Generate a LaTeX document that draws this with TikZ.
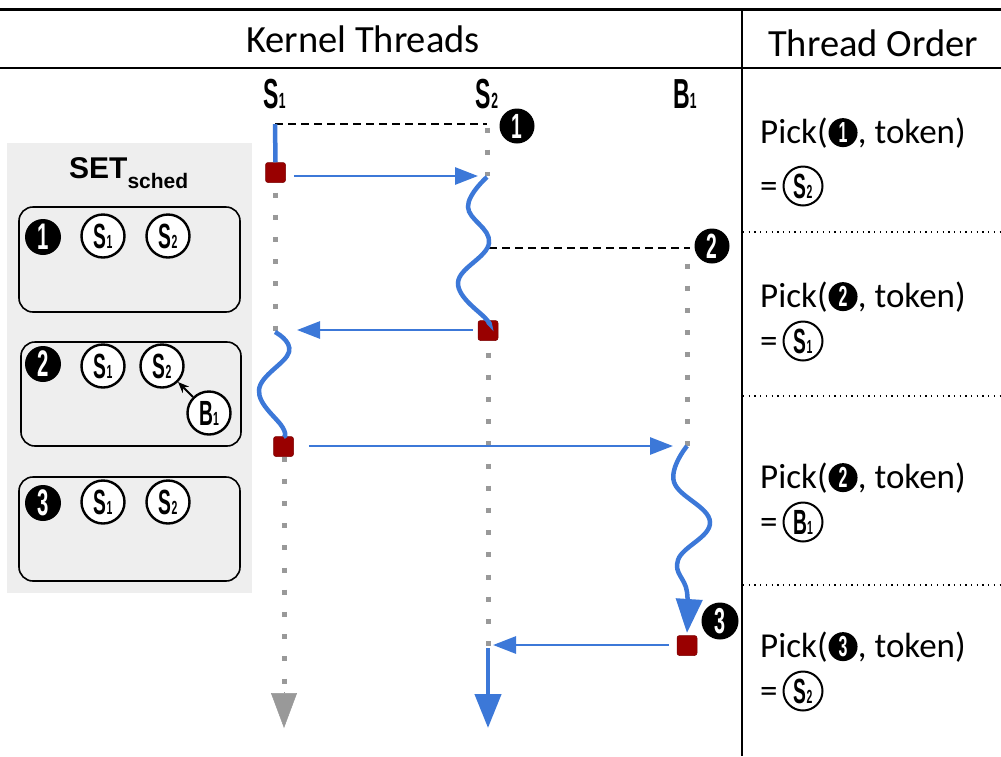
\documentclass[tikz,border=0pt]{standalone}
\usepackage{fontspec}
\usepackage{graphicx}
\setmainfont{Carlito}
\newfontfamily\condf{Liberation Sans Bold}
\newfontfamily\arialf{Liberation Sans}
\usetikzlibrary{arrows.meta}
\definecolor{tblue}{HTML}{3C78D8}
\definecolor{tred}{HTML}{990000}
\definecolor{tgray}{HTML}{999999}
\definecolor{panel}{HTML}{EEEEEE}
\newcommand{\cnd}[2]{\scalebox{0.55}[1]{\condf\fontsize{#1}{#1}\selectfont #2}}
\newcommand{\biglab}[2]{\cnd{42}{#1}\cnd{22}{#2}}
\newcommand{\clab}[2]{\cnd{35}{#1}\cnd{19}{#2}}
\tikzset{
 hdr/.style={font=\fontsize{38.5}{38.5}\selectfont, inner sep=0, anchor=base},
 picktxt/.style={font=\fontsize{35}{35}\selectfont, inner sep=0, anchor=base west},
 bnum/.style={circle, fill=black, inner sep=0, minimum size=#1, text=white},
 wcirc/.style={circle, draw=black, line width=2.4pt, fill=white, inner sep=0, minimum size=43pt},
 rcirc/.style={circle, draw=black, line width=2pt, inner sep=0, minimum size=39pt},
 setbox/.style={draw=black, line width=1.6pt, rounded corners=14pt},
 rsq/.style={rectangle, fill=tred, draw=tred!80!black, line width=0.5pt, rounded corners=2.5pt, minimum size=20pt, inner sep=0},
 tdots/.style={tgray, line width=5pt, dash pattern=on 5pt off 17.2pt},
 harrow/.style={tblue, line width=2.8pt, -{Triangle[length=23pt,width=17pt]}},
 vthick/.style={tblue, line width=4.5pt},
 varrow/.style={tblue, line width=4.5pt, -{Triangle[length=34pt,width=26pt]}},
 gyarrow/.style={tgray, line width=0.5pt, -{Triangle[length=35pt,width=26pt]}},
 blkdash/.style={black, line width=1.5pt, dash pattern=on 8pt off 5pt},
 sepdot/.style={black, line width=1.3pt, dash pattern=on 1.3pt off 4.4pt},
}
\begin{document}
\begin{tikzpicture}[x=1pt,y=-1pt]
\useasboundingbox (0,0) rectangle (1001,756);
% header frame
\coordinate (tl) at (0,9.5); \coordinate (tr) at (1001,9.5);
\coordinate (ml) at (0,68); \coordinate (mr) at (1001,68);
\coordinate (vt) at (742,9); \coordinate (vb) at (742,756);
\draw[line width=3pt] (tl) -- (tr);
\draw[line width=2.5pt] (ml) -- (mr);
\draw[line width=2.5pt] (vt) -- (vb);
\node[hdr] (kt) at (363,52) {Kernel Threads};
\node[hdr] (to) at (873,56) {Thread Order};

% right column separators
\foreach \yy/\nm in {232/sa,396/sb,585/sc}{
  \coordinate (\nm l) at (743,\yy); \coordinate (\nm r) at (1001,\yy);
  \draw[sepdot] (\nm l) -- (\nm r);
}

% left panel
\fill[panel] (7,143) rectangle (252,593);
\node[font=\arialf\bfseries\fontsize{30}{30}\selectfont, inner sep=0, anchor=base west] (setl) at (69,178) {SET\raisebox{-10pt}{\fontsize{21}{21}\selectfont sched}};
\draw[setbox] (19,207) rectangle (240,312);
\draw[setbox] (21,342) rectangle (241,446);
\draw[setbox] (19,477) rectangle (240,581);
\node[bnum=36pt] (n1) at (43,237) {\cnd{37}{1}};
\node[wcirc] (a1) at (103,236) {\clab{S}{1}};
\node[wcirc] (b1) at (168,236) {\clab{S}{2}};
\node[bnum=36pt] (n2) at (43,364) {\cnd{37}{2}};
\node[wcirc] (a2) at (103,366) {\clab{S}{1}};
\node[wcirc] (b2) at (162,366) {\clab{S}{2}};
\node[wcirc] (c2) at (209,413) {\clab{B}{1}};
\draw[black, line width=2pt, -{Stealth[length=11pt,width=9pt]}] (c2) -- (b2);
\node[bnum=36pt] (n3) at (43,503) {\cnd{37}{3}};
\node[wcirc] (a3) at (103,502) {\clab{S}{1}};
\node[wcirc] (b3) at (168,502) {\clab{S}{2}};

% thread labels
\node[inner sep=0, anchor=base] (ls1) at (274.5,108) {\biglab{S}{1}};
\node[inner sep=0, anchor=base] (ls2) at (487,108) {\biglab{S}{2}};
\node[inner sep=0, anchor=base] (lb1) at (685,108) {\biglab{B}{1}};

% timeline coordinates
\coordinate (s1top) at (275,124);
\coordinate (s2top) at (487,124);
\coordinate (s2in) at (478,176);
\coordinate (s1in) at (297,330);
\coordinate (b1in) at (673,446);
\coordinate (s2in2) at (493,645);
\coordinate (d2a) at (489,248);
\coordinate (d2b) at (690,248);

% gray dotted timelines
\draw[tdots] (487,127.5) -- (487,175.5);
\draw[tdots] (275,192.5) -- (275,330.5);
\draw[tdots] (284,456.5) -- (284,683.5);
\draw[gyarrow] (284,692) -- (284,728);
\draw[tdots] (488,352.5) -- (488,647.5);
\draw[tdots] (687,263.5) -- (687,445.5);

% dashed sync lines
\draw[blkdash] (s1top) -- (s2top);
\draw[blkdash] (d2a) -- (d2b);
\node[bnum=35pt] (m1) at (517,126) {\cnd{35}{1}};
\node[bnum=35pt] (m2) at (712,246) {\cnd{35}{2}};
\node[bnum=37pt] (m3) at (720,621) {\cnd{36}{3}};

% red squares
\node[rsq] (sq1) at (275.5,172.5) {};
\node[rsq] (sq2) at (488,330.5) {};
\node[rsq] (sq3) at (283.5,446.5) {};
\node[rsq] (sq4) at (687,645.5) {};

% blue execution
\draw[vthick] (s1top) -- (sq1.north);
\draw[harrow] ([xshift=8pt]sq1.east |- s2in) -- (s2in);
\draw[vthick] plot[smooth, tension=0.7] coordinates {(487,177) (468,207) (489,243) (458,283) (487,320) (488,322)};
\draw[harrow] ([xshift=-5pt]sq2.west |- s1in) -- (s1in);
\draw[vthick] plot[smooth, tension=0.7] coordinates {(275,332) (289,352) (259,390) (283,428) (283.5,437)};
\draw[harrow] ([xshift=15pt]sq3.east |- b1in) -- (b1in);
\draw[varrow] plot[smooth, tension=0.7] coordinates {(687,446) (674,482) (710,522) (678,560) (687,592) (687,633)};
\draw[harrow] ([xshift=-8pt]sq4.west |- s2in2) -- (s2in2);
\coordinate (s2b) at (488,648); \coordinate (s2end) at (488,728);
\draw[varrow] (s2b) -- (s2end);

% right column texts
\foreach \row/\by/\num/\cy/\la/\lb in {1/143/1/186/S/2, 2/307/2/341/S/1, 3/488/2/522/B/1, 4/657/3/691/S/2}{
  \node[picktxt] (pa\row) at (760,\by) {Pick(};
  \node[bnum=29pt, anchor=west] (pc\row) at ([xshift=0.5pt]pa\row.east) {\cnd{29}{\num}};
  \node[picktxt] (pb\row) at (pc\row.east |- pa\row.base) {, token)};
  \node[picktxt] (eq\row) at (760,\cy+11) {=};
  \node[rcirc] (rc\row) at (803,\cy) {\clab{\la}{\lb}};
}
\end{tikzpicture}
\end{document}
